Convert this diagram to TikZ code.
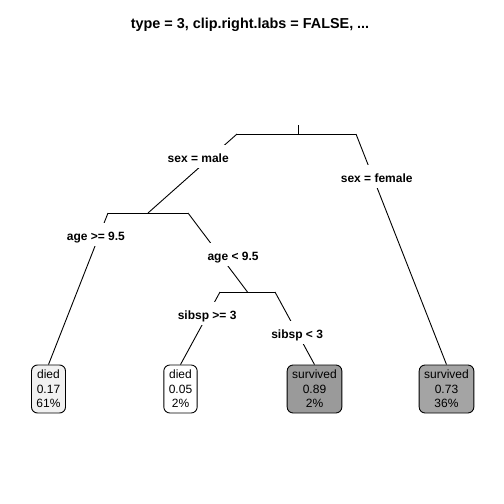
\documentclass[tikz,border=0pt]{standalone}
\usepackage{fontspec}
\setmainfont{Liberation Sans}
\definecolor{leafA}{HTML}{F1F1F1}
\definecolor{leafB}{HTML}{FFFFFF}
\definecolor{leafC}{HTML}{9A9A9A}
\definecolor{leafD}{HTML}{A4A4A4}
\tikzset{
  edge/.style={draw=black, line width=0.9pt},
  lbl/.style={fill=white, inner xsep=1pt, inner ysep=4.5pt, text height=13pt, text depth=1pt,
              font=\fontsize{12}{14.4}\selectfont\bfseries},
  leaf/.style={draw=black, line width=0.9pt, rounded corners=6pt, align=center, inner xsep=5pt,
               minimum height=48pt, minimum width=33pt, font=\fontsize{12}{14.4}\selectfont},
  ttl/.style={font=\fontsize{14.4}{17}\selectfont\bfseries}
}
\begin{document}
\begin{tikzpicture}[x=1pt, y=-1pt]
\useasboundingbox (0,0) rectangle (504,504);
\node[ttl] (title) at (250,25) {type = 3, clip.right.labs = FALSE, ...};
% leaves
\node[leaf, fill=leafA] (l1) at (48.5,389) {died\\0.17\\61\%};
\node[leaf, fill=leafB] (l2) at (180.5,389) {died\\0.05\\2\%};
\node[leaf, fill=leafC] (l3) at (314.5,389) {survived\\0.89\\2\%};
\node[leaf, fill=leafD] (l4) at (446.5,389) {survived\\0.73\\36\%};
% root
\coordinate (rtop) at (298,125);
\coordinate (rmid) at (298,134);
\coordinate (rL) at (237,134);
\coordinate (rR) at (356,134);
% age split
\coordinate (aL) at (108,213);
\coordinate (aM) at (148,213);
\coordinate (aR) at (188,213);
% sibsp split
\coordinate (sL) at (220,292);
\coordinate (sM) at (247.5,292);
\coordinate (sR) at (275,292);

\draw[edge] (rtop) -- (rmid);
\draw[edge] (rL) -- (rR);
\draw[edge] (aL) -- (aR);
\draw[edge] (sL) -- (sR);

\draw[edge] (rL) -- node[lbl, pos=0.29, xshift=-13pt] (e1) {sex = male} (aM);
\draw[edge] (rR) -- node[lbl, pos=0.185, xshift=4pt] (e2) {sex = female} (l4.north);
\draw[edge] (aL) -- node[lbl, pos=0.145, xshift=-3.5pt] (e3) {age >= 9.5} (l1.north);
\draw[edge] (aR) -- node[lbl, pos=0.53, xshift=13.5pt] (e4) {age < 9.5} (sM);
\draw[edge] (sL) -- node[lbl, pos=0.30, xshift=-1pt] (e5) {sibsp >= 3} (l2.north);
\draw[edge] (sR) -- node[lbl, pos=0.56] (e6) {sibsp < 3} (l3.north);
\end{tikzpicture}
\end{document}
